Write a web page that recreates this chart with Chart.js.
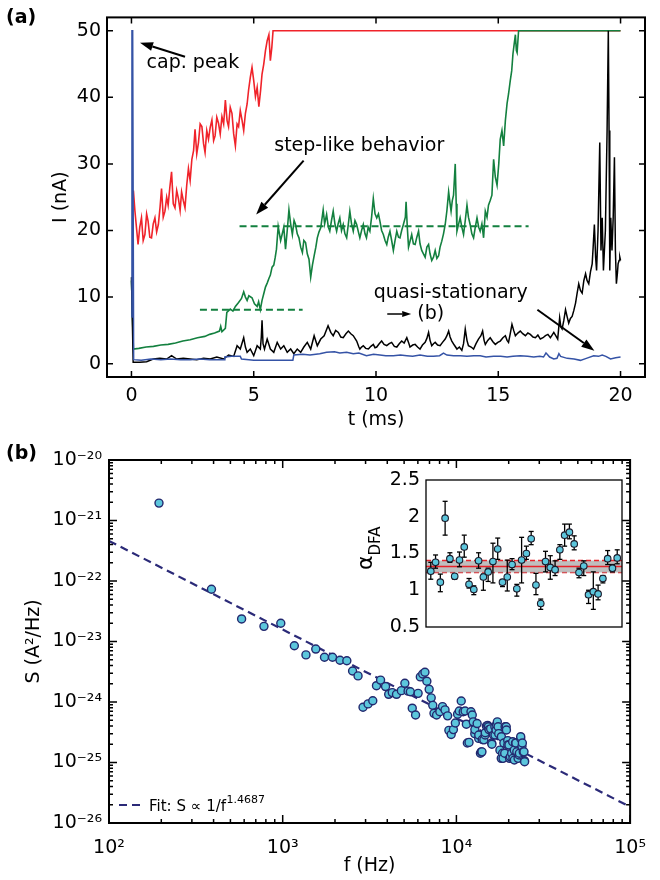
<!DOCTYPE html>
<html><head><meta charset="utf-8">
<script src="https://cdn.jsdelivr.net/npm/chart.js@4.4.1/dist/chart.umd.min.js"></script>
<style>
html,body{margin:0;padding:0;background:#fff;}
#wrap{position:relative;width:660px;height:880px;background:#fff;}
canvas{position:absolute;left:0;top:0;}
</style></head><body>
<div id="wrap">
<canvas id="ca" width="660" height="880"></canvas>
<canvas id="cb" width="660" height="880"></canvas>
<canvas id="cc" width="660" height="880"></canvas>
</div>
<script>
// ---------------- Panel (a): current traces ----------------
const tTicks = [0, 5, 10, 15, 20];
const tTickLabels = ['0', '5', '10', '15', '20'];
const iTicks = [0, 10, 20, 30, 40, 50];
const iTickLabels = ['0', '10', '20', '30', '40', '50'];

const redT = [0.08,0.14,0.27,0.34,0.41,0.48,0.55,0.62,0.68,0.75,
0.82,0.89,0.96,1.03,1.1,1.17,1.23,1.3,1.37,1.44,
1.5,1.57,1.64,1.71,1.78,1.85,1.92,1.99,2.05,2.12,
2.19,2.26,2.33,2.4,2.47,2.54,2.6,2.67,2.74,2.81,
2.88,2.95,3.01,3.08,3.15,3.22,3.29,3.36,3.42,3.49,
3.56,3.63,3.7,3.77,3.84,3.91,3.97,4.04,4.11,4.18,
4.25,4.32,4.38,4.45,4.52,4.59,4.66,4.73,4.79,4.86,
4.93,5.0,5.07,5.14,5.21,5.28,5.34,5.41,5.48,5.55,
5.62,5.68,5.74,5.79,20];
const redI = [26,23,17.9,20.5,21.9,18.5,19.4,22.5,21.4,19.0,
18.9,21.0,21.9,19.8,20.9,23.5,26.3,22.0,22.9,25.0,
23.8,26.5,28.8,24.0,23.4,26.0,24.8,23.0,25.8,24.5,
23.4,26.8,29.3,27.5,30.7,32.0,35.2,31.5,33.2,36.0,
35.6,33.0,31.7,35.0,33.7,35.5,36.6,33.5,34.2,37.0,
36.1,34.5,37.1,36.0,39.6,36.5,35.6,38.5,37.6,34.5,
32.7,36.0,35.6,38.0,36.6,35.0,37.6,39.0,41.1,43.0,
44.5,42.5,40.1,41.5,38.6,41.0,43.5,45.0,47.0,48.5,
49.4,45.5,47.5,50,50];

const greenT = [0,0.08,0.3,0.6,0.9,1.2,1.5,1.8,2.1,2.4,
2.7,3.0,3.2,3.4,3.6,3.65,3.7,3.84,3.9,4.04,
4.15,4.25,4.38,4.5,4.59,4.66,4.73,4.8,4.93,5.03,
5.14,5.2,5.27,5.34,5.41,5.48,5.55,5.62,5.68,5.75,
5.82,5.88,5.93,6.0,6.1,6.16,6.23,6.3,6.37,6.44,
6.51,6.58,6.65,6.71,6.78,6.85,6.92,6.99,7.05,7.12,
7.19,7.26,7.33,7.4,7.47,7.54,7.6,7.67,7.74,7.84,
7.9,7.98,8.05,8.11,8.18,8.25,8.32,8.39,8.45,8.52,
8.59,8.66,8.73,8.8,8.87,8.93,9.0,9.07,9.14,9.21,
9.28,9.34,9.41,9.48,9.55,9.61,9.68,9.75,9.82,9.89,
9.96,10.03,10.1,10.16,10.23,10.3,10.37,10.44,10.5,10.57,
10.64,10.71,10.78,10.85,10.92,10.98,11.05,11.12,11.2,11.23,
11.28,11.33,11.4,11.46,11.53,11.6,11.67,11.74,11.8,11.87,
11.94,12.01,12.08,12.15,12.21,12.28,12.35,12.42,12.49,12.56,
12.62,12.69,12.76,12.83,12.9,12.97,13.03,13.07,13.12,13.17,
13.24,13.28,13.31,13.38,13.44,13.51,13.58,13.65,13.72,13.78,
13.85,13.92,13.99,14.06,14.13,14.2,14.26,14.33,14.4,14.47,
14.54,14.6,14.67,14.74,14.81,14.88,14.95,15.02,15.08,15.15,
15.22,15.29,15.36,15.42,15.49,15.55,15.6,15.65,15.7,15.74,
15.77,15.83,20];
const greenI = [12.5,2.2,2.3,2.5,2.6,2.8,2.9,3.1,3.4,3.6,
3.9,4.1,4.4,4.6,4.9,5.6,4.8,5.3,7.7,8.2,
7.9,8.6,9.2,9.8,10.8,10.0,9.5,10.2,9.9,9.0,
8.6,9.3,8.1,9.5,10.5,11.5,12.1,12.8,13.3,14.5,
14.8,16.0,17.2,20.6,18.5,19.4,20.5,17.2,20.0,23.1,
21.0,19.4,21.5,20.9,19.5,18.9,17.5,16.7,18.5,18.2,
16.5,15.7,13.0,14.8,16.2,17.5,18.9,19.8,20.4,23.1,
21.0,22.4,20.5,19.9,21.5,22.9,21.0,19.9,21.0,21.9,
20.0,20.9,19.5,18.9,21.0,22.9,21.0,19.9,21.5,20.9,
19.8,18.9,20.0,20.9,19.5,18.9,20.5,19.9,22.0,24.8,
22.5,21.9,22.5,21.4,20.0,19.4,18.5,17.9,19.0,19.9,
18.5,17.0,18.5,19.9,19.0,18.9,20.0,20.9,22.0,24.3,
20.5,17.5,18.5,19.4,18.0,17.9,19.0,19.9,18.0,17.0,
16.5,16.0,17.5,17.9,16.5,15.5,16.0,17.0,15.8,16.2,
17.5,18.4,19.5,20.9,23.0,25.8,24.0,22.9,24.5,25.3,
30.0,24.0,19.9,21.0,21.9,20.5,19.4,21.5,23.8,22.0,
20.9,19.5,18.9,20.5,21.9,20.5,19.9,21.0,18.9,22.9,
22.0,23.8,24.5,25.3,30.7,28.0,26.8,30.0,33.7,35.0,
32.7,36.5,39.1,40.5,42.5,44.0,46.5,48.0,49.4,47.0,
46.7,50,50];

const blackT = [0,0.07,0.34,0.62,0.89,1.16,1.44,1.64,1.85,2.12,
2.4,2.67,2.95,3.22,3.49,3.77,3.97,4.18,4.32,4.45,
4.59,4.66,4.73,4.86,5.0,5.14,5.27,5.31,5.34,5.38,
5.44,5.55,5.68,5.82,5.96,6.1,6.23,6.37,6.51,6.64,
6.78,6.92,7.05,7.19,7.33,7.47,7.6,7.74,7.88,8.04,
8.15,8.25,8.35,8.46,8.56,8.66,8.77,8.87,8.97,9.07,
9.14,9.21,9.3,9.34,9.41,9.48,9.58,9.69,9.79,9.89,
9.96,10.03,10.13,10.23,10.33,10.44,10.54,10.64,10.75,10.85,
10.95,11.05,11.15,11.26,11.33,11.39,11.5,11.6,11.7,11.8,
11.9,12.01,12.08,12.15,12.21,12.28,12.35,12.42,12.52,12.62,
12.72,12.83,12.9,12.97,13.03,13.1,13.2,13.31,13.41,13.51,
13.58,13.65,13.72,13.78,13.89,13.99,14.09,14.19,14.29,14.36,
14.42,14.47,14.57,14.67,14.78,14.88,14.98,15.08,15.19,15.29,
15.36,15.42,15.49,15.56,15.63,15.7,15.8,15.9,16.0,16.11,
16.21,16.31,16.42,16.52,16.62,16.72,16.83,16.93,17.03,17.13,
17.2,17.27,17.35,17.43,17.51,17.56,17.61,17.68,17.75,17.82,
17.88,17.95,18.02,18.09,18.16,18.22,18.29,18.36,18.43,18.5,
18.57,18.63,18.7,18.77,18.84,18.88,18.93,18.98,19.02,19.08,
19.15,19.2,19.25,19.3,19.38,19.45,19.5,19.53,19.56,19.6,
19.65,19.7,19.75,19.79,19.83,19.87,19.9,19.94,19.97,20.0];
const blackI = [13,0.2,0.2,0.3,0.7,0.8,0.7,1.2,0.7,0.8,
0.7,0.6,0.8,0.7,1.0,0.7,1.3,1.1,2.7,2.2,
3.9,2.5,1.7,2.2,1.2,2.7,2.2,4.0,6.5,3.0,
2.2,3.7,2.2,1.7,3.2,2.2,2.7,1.7,2.2,1.5,
2.2,1.7,2.5,3.2,2.2,4.2,2.7,3.7,4.2,5.7,
4.7,4.2,5.0,4.7,4.0,3.9,4.5,4.9,4.5,4.2,
3.8,3.4,2.5,2.2,2.5,2.7,2.3,2.2,2.6,2.9,
2.4,2.5,3.0,3.4,2.9,2.7,3.0,3.2,2.6,2.5,
3.0,3.4,3.1,3.9,3.2,2.5,2.8,2.9,2.5,2.2,
2.8,3.2,3.8,4.7,3.5,2.7,3.0,3.2,2.8,2.7,
3.2,3.7,4.2,4.9,4.0,3.4,2.8,2.2,2.5,2.0,
3.0,5.2,3.5,2.7,2.5,2.2,3.0,3.7,4.2,4.9,
3.5,2.9,3.5,3.9,3.3,2.9,3.2,3.4,3.9,4.2,
3.5,3.2,4.5,5.9,5.0,4.2,4.6,4.9,4.5,4.2,
4.6,4.4,4.0,3.9,4.3,3.7,3.9,4.2,4.4,3.9,
4.3,4.7,4.2,3.7,6.9,5.5,5.2,6.5,8.1,7.0,
6.1,6.8,7.1,8.0,9.1,10.5,12.0,11.0,10.6,12.5,
13.5,12.5,12.0,13.8,15.0,17.5,20.9,16.0,14.0,20.0,
33.2,17.0,21.9,14.0,20.0,35,50,35,14.0,21.9,
17.0,22.0,31.0,17.0,12.0,13.5,15.0,15.5,16.0,15.5];

const blueT = [0,0.02,0.05,0.09,0.4,0.8,1.2,1.6,2.0,2.4,
2.8,3.2,3.6,3.8,3.82,4.1,4.45,4.5,4.8,5.0,
5.5,6.0,6.6,6.64,7.0,7.3,7.7,7.98,8.3,8.52,
8.8,9.07,9.3,9.61,9.9,10.16,10.4,10.71,11.0,11.26,
11.5,11.8,12.1,12.35,12.6,12.76,12.9,13.17,13.45,13.72,
14.0,14.26,14.5,14.81,15.1,15.36,15.6,15.9,16.2,16.45,
16.7,16.85,16.95,17.0,17.1,17.27,17.4,17.48,17.55,17.82,
18.1,18.36,18.6,18.9,19.1,19.25,19.4,19.59,19.8,20.0];
const blueI = [7,50,50,0.6,0.5,0.7,0.6,0.7,0.6,0.6,
0.7,0.6,0.6,0.6,1.0,1.1,1.1,0.7,0.6,0.5,
0.5,0.5,0.5,1.3,1.4,1.3,1.5,1.7,1.8,1.6,
1.7,1.5,1.6,1.2,1.4,1.3,1.2,1.2,1.3,1.2,
1.1,1.3,1.1,1.1,1.2,1.6,1.3,1.2,1.2,1.1,
1.2,1.2,1.0,1.1,1.1,1.0,1.1,1.2,1.1,1.0,
1.1,1.0,1.6,1.4,1.0,0.7,0.8,1.5,1.1,0.8,
0.7,0.5,0.8,1.2,1.1,1.3,1.1,0.7,0.9,1.0];

// dashed step guide levels
const stepLowT = [2.8, 7.0], stepLowI = [8.1, 8.1];
const stepHighT = [4.42, 16.24], stepHighI = [20.65, 20.65];

// annotations (data coordinates)
const annLabels = ['cap. peak', 'step-like behavior', 'quasi-stationary', '(b)'];
const annT = [0.62, 5.84, 9.91, 11.69];
const annI = [44.4, 32.0, 9.83, 6.64];
const arrT0 = [2.19, 7.04, 10.46, 16.6], arrI0 = [46.1, 30.5, 7.46, 8.1];
const arrT1 = [0.35, 5.10, 11.44, 18.93], arrI1 = [48.2, 22.4, 7.46, 1.96];

// ---------------- Panel (b): spectrum ----------------
const fTicks = [1e2, 1e3, 1e4, 1e5];
const fTickLabels = ['10\u00B2', '10\u00B3', '10\u2074', '10\u2075'];
const sTicks = [1e-26, 1e-25, 1e-24, 1e-23, 1e-22, 1e-21, 1e-20];
const sTickLabels = ['10\u207B\u00B2\u2076', '10\u207B\u00B2\u2075', '10\u207B\u00B2\u2074', '10\u207B\u00B2\u00B3', '10\u207B\u00B2\u00B2', '10\u207B\u00B2\u00B9', '10\u207B\u00B2\u2070'];

const specF = [194,389,580,780,975,1167,1361,1550,1740,1935,
2138,2340,2525,2715,2900,3100,3300,3466,3660,3910,
4075,4275,4520,4820,5050,5270,5430,5570,5820,6020,
6200,6400,6590,6760,6970,7160,7310,7430,7690,8030,
8320,8600,8900,9050,9330,9610,9860,10160,10390,10660,
10940,11220,11410,11560,11820,12130,12340,12500,12760,12770,
13160,13440,13450,13750,13910,14030,14090,14390,14640,14660,
14880,15130,15280,15410,15740,15960,16010,16350,16650,16680,
16910,17020,17200,17380,17520,17810,18120,18150,18450,18550,
18760,18970,19070,19360,19410,19750,19760,20070,20230,20450,
20800,21080,21150,21530,21560,21880,22000,22270,22650,22950,
23050,23440,23450,23850,23970,24250,24500,24680,24700];
const specS = [1.94e-21,7.3e-23,2.36e-23,1.78e-23,2.0e-23,8.5e-24,6.0e-24,7.5e-24,5.5e-24,5.5e-24,
4.9e-24,4.8e-24,3.25e-24,2.7e-24,8.2e-25,9.3e-25,1.05e-24,1.86e-24,2.3e-24,1.8e-24,
1.34e-24,1.43e-24,1.34e-24,1.54e-24,2.04e-24,1.51e-24,1.48e-24,7.9e-25,6.1e-25,1.39e-24,
2.6e-24,2.9e-24,3.1e-24,2.2e-24,1.62e-24,1.17e-24,8.8e-25,6.5e-25,6.1e-25,6.9e-25,
8.4e-25,7.4e-25,5.9e-25,3.4e-25,2.9e-25,3.5e-25,4.5e-25,6.3e-25,7.1e-25,1.04e-24,
6.9e-25,7.1e-25,4.3e-25,2.1e-25,2.15e-25,6.9e-25,6.1e-25,4.7e-25,3.0e-25,3.5e-25,
4.4e-25,2.5e-25,2.85e-25,1.42e-25,1.5e-25,1.5e-25,2.4e-25,2.37e-25,2.85e-25,3.1e-25,
4.0e-25,4.1e-25,3.9e-25,3.5e-25,3.6e-25,2.1e-25,2.0e-25,2.85e-25,3.9e-25,2.85e-25,
3.45e-25,4.2e-25,4.7e-25,3.9e-25,3.0e-25,1.6e-25,1.17e-25,2.67e-25,1.42e-25,1.17e-25,
2.1e-25,1.42e-25,3.9e-25,3.9e-25,3.45e-25,2.3e-25,1.95e-25,1.95e-25,1.17e-25,1.24e-25,
1.42e-25,2.2e-25,1.17e-25,1.6e-25,1.1e-25,2.1e-25,2.1e-25,1.5e-25,1.17e-25,1.33e-25,
1.42e-25,2.5e-25,2.67e-25,1.85e-25,2.1e-25,1.5e-25,1.5e-25,1.07e-25,1.03e-25];

const fitF = [1e2, 1e5];
const fitS = [4.6e-22, 1.85e-26];
const fitLabel = 'Fit: S \u221D 1/f';
const fitExponent = '1.4687';

// ---------------- Inset: alpha_DFA ----------------
const alphaTicks = [0.5, 1, 1.5, 2, 2.5];
const alphaTickLabels = ['0.5', '1', '1.5', '2', '2.5'];
const alphaX = [1,2,3,4,5,6,7,8,9,10,11,12,13,14,15,16,17,18,19,20,
21,22,23,24,25,26,27,28,29,30,31,32,33,34,35,36,37,38,39,40];
const alphaVal = [1.26,1.38,1.11,1.98,1.43,1.19,1.41,1.59,1.08,1.01,
1.40,1.18,1.25,1.39,1.56,1.11,1.18,1.35,1.02,1.41,
1.50,1.70,1.07,0.82,1.39,1.31,1.28,1.55,1.75,1.79,
1.63,1.24,1.33,0.94,0.98,0.95,1.16,1.43,1.30,1.44];
const alphaLo = [1.15,1.30,0.98,1.75,1.38,1.15,1.32,1.45,1.03,0.94,
1.30,1.00,1.12,1.10,1.42,1.05,0.99,1.28,0.92,1.10,
1.42,1.62,0.94,0.74,1.25,1.15,1.20,1.42,1.60,1.70,
1.55,1.17,1.20,0.82,0.74,0.87,1.10,1.35,1.25,1.36];
const alphaHi = [1.38,1.48,1.22,2.21,1.51,1.22,1.52,1.75,1.16,1.06,
1.51,1.22,1.30,1.64,1.71,1.14,1.41,1.43,1.08,1.72,
1.60,1.80,1.23,0.88,1.53,1.47,1.40,1.62,1.90,1.90,
1.74,1.30,1.40,1.00,1.25,1.07,1.20,1.54,1.35,1.55];
const bandX = [0, 41];
const alphaMean = 1.323, alphaBandLo = 1.241, alphaBandHi = 1.405;

// ================= helpers =================
Chart.defaults.font.family = "'DejaVu Sans', sans-serif";
Chart.defaults.font.size = 19;
Chart.defaults.color = '#000';
Chart.defaults.animation = false;

const xy = (xs, ys) => xs.map((x, k) => ({x: x, y: ys[k]}));

function arrow(ctx, x1, y1, x2, y2, lw, hl, hw) {
  const a = Math.atan2(y2 - y1, x2 - x1);
  const bx = x2 - hl * Math.cos(a), by = y2 - hl * Math.sin(a);
  ctx.lineWidth = lw;
  ctx.beginPath(); ctx.moveTo(x1, y1); ctx.lineTo(bx, by); ctx.stroke();
  ctx.beginPath();
  ctx.moveTo(x2, y2);
  ctx.lineTo(bx + hw * Math.sin(a), by - hw * Math.cos(a));
  ctx.lineTo(bx - hw * Math.sin(a), by + hw * Math.cos(a));
  ctx.closePath(); ctx.fill();
}

function logMinor(e0, e1) {
  const out = [];
  for (let e = e0; e < e1; e++) for (let m = 2; m <= 9; m++) out.push(m * Math.pow(10, e));
  return out;
}

const framePlugin = {
  id: 'frame',
  afterDatasetsDraw(chart, args, o) {
    const ctx = chart.ctx, a = chart.chartArea;
    const xs = chart.scales.x, ys = chart.scales.y;
    ctx.save();
    ctx.strokeStyle = '#000';
    ctx.lineWidth = o.tickWidth || 1.5;
    const tx = (v, len) => {
      const p = xs.getPixelForValue(v);
      if (p < a.left - 1 || p > a.right + 1) return;
      ctx.beginPath();
      ctx.moveTo(p, a.bottom); ctx.lineTo(p, a.bottom - len);
      ctx.moveTo(p, a.top); ctx.lineTo(p, a.top + len);
      ctx.stroke();
    };
    const ty = (v, len) => {
      const p = ys.getPixelForValue(v);
      if (p < a.top - 1 || p > a.bottom + 1) return;
      ctx.beginPath();
      ctx.moveTo(a.left, p); ctx.lineTo(a.left + len, p);
      ctx.moveTo(a.right, p); ctx.lineTo(a.right - len, p);
      ctx.stroke();
    };
    if (o.xTicks) {
      xs.ticks.forEach(t => tx(t.value, o.major));
      (o.xMinor || []).forEach(v => tx(v, o.minor));
    }
    if (o.yTicks) {
      ys.ticks.forEach(t => ty(t.value, o.major));
      (o.yMinor || []).forEach(v => ty(v, o.minor));
    }
    ctx.lineWidth = o.frameWidth || 2;
    ctx.strokeRect(a.left, a.top, a.right - a.left, a.bottom - a.top);
    ctx.restore();
  }
};

// ================= Chart A =================
const annotA = {
  id: 'annotA',
  afterDatasetsDraw(chart) {
    const ctx = chart.ctx, xs = chart.scales.x, ys = chart.scales.y;
    ctx.save();
    ctx.fillStyle = '#000'; ctx.strokeStyle = '#000';
    ctx.font = "19px 'DejaVu Sans'";
    ctx.textBaseline = 'alphabetic'; ctx.textAlign = 'left';
    annLabels.forEach((s, k) => ctx.fillText(s, xs.getPixelForValue(annT[k]), ys.getPixelForValue(annI[k])));
    arrT0.forEach((t, k) => {
      const small = (k === 2);
      arrow(ctx, xs.getPixelForValue(t), ys.getPixelForValue(arrI0[k]),
            xs.getPixelForValue(arrT1[k]), ys.getPixelForValue(arrI1[k]),
            small ? 1.5 : 2, small ? 9 : 13, small ? 3 : 4.5);
    });
    ctx.font = "bold 19px 'DejaVu Sans'";
    ctx.textBaseline = 'middle';
    ctx.fillText('(a)', 6, 18);
    ctx.restore();
  }
};

new Chart(document.getElementById('ca'), {
  type: 'line',
  data: {datasets: [
    {data: xy(blueT, blueI), borderColor: '#3553a6', borderWidth: 1.5, pointRadius: 0},
    {data: xy(blackT, blackI), borderColor: '#000000', borderWidth: 1.5, pointRadius: 0},
    {data: xy(greenT, greenI), borderColor: '#13803f', borderWidth: 1.6, pointRadius: 0},
    {data: xy(redT, redI), borderColor: '#f0232a', borderWidth: 1.6, pointRadius: 0},
    {data: xy(stepLowT, stepLowI), borderColor: '#13803f', borderWidth: 2, borderDash: [7, 4], pointRadius: 0},
    {data: xy(stepHighT, stepHighI), borderColor: '#13803f', borderWidth: 2, borderDash: [7, 4], pointRadius: 0}
  ]},
  options: {
    responsive: false, animation: false,
    layout: {padding: {left: 0, top: 11, right: 15, bottom: 443}},
    plugins: {legend: {display: false}, tooltip: {enabled: false},
      frame: {xTicks: true, yTicks: true, major: 6, minor: 0}},
    scales: {
      x: {type: 'linear', min: -1, max: 21,
        afterBuildTicks: s => { s.ticks = tTicks.map(v => ({value: v})); },
        afterFit: s => { s.height = 60; },
        grid: {display: false, drawTicks: false}, border: {display: false},
        ticks: {padding: 8, autoSkip: false, maxRotation: 0, callback: (v, i) => tTickLabels[i]},
        title: {display: true, text: 't (ms)', padding: {top: 0, bottom: 6}}},
      y: {type: 'linear', min: -2, max: 52,
        afterBuildTicks: s => { s.ticks = iTicks.map(v => ({value: v})); },
        afterFit: s => { s.width = 107; },
        grid: {display: false, drawTicks: false}, border: {display: false},
        ticks: {padding: 6, autoSkip: false, callback: (v, i) => iTickLabels[i]},
        title: {display: true, text: 'I (nA)', padding: {top: 50, bottom: 0}}}
    }
  },
  plugins: [framePlugin, annotA]
});

// ================= Chart B =================
const annotB = {
  id: 'annotB',
  afterDatasetsDraw(chart) {
    const ctx = chart.ctx, a = chart.chartArea;
    ctx.save();
    ctx.fillStyle = '#000';
    ctx.font = "bold 19px 'DejaVu Sans'";
    ctx.textBaseline = 'middle'; ctx.textAlign = 'left';
    ctx.fillText('(b)', 6, 454);
    // legend
    const ly = a.bottom - 18;
    ctx.strokeStyle = '#2b2a78'; ctx.lineWidth = 2.2; ctx.setLineDash([8, 5]);
    ctx.beginPath(); ctx.moveTo(a.left + 10, ly); ctx.lineTo(a.left + 32, ly); ctx.stroke();
    ctx.setLineDash([]);
    ctx.textBaseline = 'alphabetic';
    ctx.font = "15px 'DejaVu Sans'";
    const tx = a.left + 40, tb = a.bottom - 12;
    ctx.fillText(fitLabel, tx, tb);
    const w = ctx.measureText(fitLabel).width;
    ctx.font = "11px 'DejaVu Sans'";
    ctx.fillText(fitExponent, tx + w + 0.5, tb - 8);
    ctx.restore();
  }
};

new Chart(document.getElementById('cb'), {
  type: 'line',
  data: {datasets: [
    {data: xy(specF, specS), showLine: false, pointRadius: 4, pointBorderWidth: 1.4,
     pointBackgroundColor: '#5cc6dc', pointBorderColor: '#23286e'},
    {data: xy(fitF, fitS), borderColor: '#2b2a78', borderWidth: 2.2, borderDash: [8, 5], pointRadius: 0}
  ]},
  options: {
    responsive: false, animation: false,
    layout: {padding: {left: 0, top: 460, right: 14, bottom: 0}},
    plugins: {legend: {display: false}, tooltip: {enabled: false},
      frame: {xTicks: true, yTicks: true, major: 8, minor: 4,
              xMinor: logMinor(2, 5), yMinor: logMinor(-26, -20)}},
    scales: {
      x: {type: 'logarithmic', min: 1e2, max: 1e5,
        afterBuildTicks: s => { s.ticks = fTicks.map(v => ({value: v})); },
        afterFit: s => { s.height = 57; },
        grid: {display: false, drawTicks: false}, border: {display: false},
        ticks: {padding: 14, autoSkip: false, maxRotation: 0, callback: (v, i) => fTickLabels[i]},
        title: {display: true, text: 'f (Hz)', padding: {top: 0, bottom: 3}}},
      y: {type: 'logarithmic', min: 1e-26, max: 1e-20,
        afterBuildTicks: s => { s.ticks = sTicks.map(v => ({value: v})); },
        afterFit: s => { s.width = 109; },
        grid: {display: false, drawTicks: false}, border: {display: false},
        ticks: {padding: 7, autoSkip: false, callback: (v, i) => sTickLabels[i]},
        title: {display: true, text: 'S (A\u00B2/Hz)', padding: {top: 23, bottom: 0}}}
    }
  },
  plugins: [framePlugin, annotB]
});

// ================= Chart C (inset) =================
const annotC = {
  id: 'annotC',
  beforeDatasetsDraw(chart) {
    const ctx = chart.ctx, a = chart.chartArea;
    ctx.save(); ctx.fillStyle = '#fff';
    ctx.fillRect(a.left, a.top, a.right - a.left, a.bottom - a.top);
    ctx.restore();
  },
  afterDatasetsDraw(chart) {
    const ctx = chart.ctx;
    ctx.save();
    ctx.fillStyle = '#000';
    ctx.translate(370, 548);
    ctx.rotate(-Math.PI / 2);
    ctx.textBaseline = 'alphabetic'; ctx.textAlign = 'left';
    ctx.font = "22px 'DejaVu Sans'";
    ctx.fillText('\u03B1', -22, 2);
    const w = ctx.measureText('\u03B1').width;
    ctx.font = "15px 'DejaVu Sans'";
    ctx.fillText('DFA', -22 + w, 10);
    ctx.restore();
  }
};

const errData = [];
alphaX.forEach((x, k) => { errData.push({x: x, y: alphaLo[k]}, {x: x, y: alphaHi[k]}, {x: x, y: null}); });

new Chart(document.getElementById('cc'), {
  type: 'line',
  data: {datasets: [
    {data: xy(alphaX, alphaVal), showLine: false, pointRadius: 3.3, pointBorderWidth: 1.1,
     pointBackgroundColor: '#5cc6dc', pointBorderColor: '#1a1a2a'},
    {data: xy(alphaX, alphaLo), showLine: false, pointStyle: 'line', pointRadius: 2.5, pointBorderWidth: 1.3, pointBorderColor: '#000'},
    {data: xy(alphaX, alphaHi), showLine: false, pointStyle: 'line', pointRadius: 2.5, pointBorderWidth: 1.3, pointBorderColor: '#000'},
    {data: errData, borderColor: '#000', borderWidth: 1.3, pointRadius: 0, spanGaps: false},
    {data: xy(bandX, [alphaMean, alphaMean]), borderColor: '#e8232a', borderWidth: 1.6, pointRadius: 0},
    {data: xy(bandX, [alphaBandHi, alphaBandHi]), borderColor: '#e8232a', borderWidth: 1.6, borderDash: [5, 3], pointRadius: 0,
     fill: '+1', backgroundColor: 'rgba(170,170,170,0.75)'},
    {data: xy(bandX, [alphaBandLo, alphaBandLo]), borderColor: '#e8232a', borderWidth: 1.6, borderDash: [5, 3], pointRadius: 0, fill: false}
  ]},
  options: {
    responsive: false, animation: false,
    layout: {padding: {left: 0, top: 480, right: 38, bottom: 253}},
    plugins: {legend: {display: false}, tooltip: {enabled: false},
      frame: {xTicks: false, yTicks: false, major: 0, minor: 0, frameWidth: 1.3}},
    scales: {
      x: {type: 'linear', min: 0, max: 41, display: false},
      y: {type: 'linear', min: 0.5, max: 2.5,
        afterBuildTicks: s => { s.ticks = alphaTicks.map(v => ({value: v})); },
        afterFit: s => { s.width = 426; },
        grid: {display: false, drawTicks: false}, border: {display: false},
        ticks: {padding: 6, autoSkip: false, callback: (v, i) => alphaTickLabels[i]}}
    }
  },
  plugins: [annotC, framePlugin]
});
</script>
</body></html>
